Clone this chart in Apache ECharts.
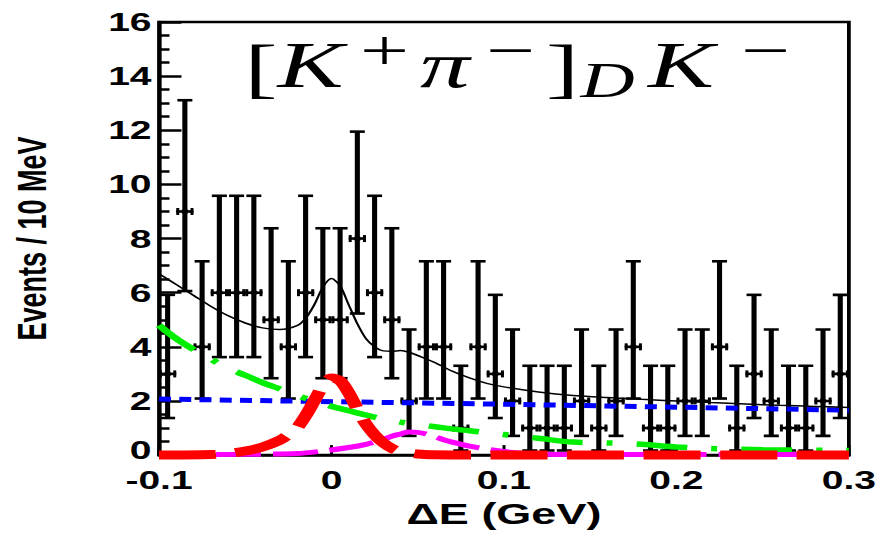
<!DOCTYPE html>
<html><head><meta charset="utf-8">
<script src="https://cdn.jsdelivr.net/npm/echarts@6/dist/echarts.min.js"></script>
<style>
html,body{margin:0;padding:0;background:#fff;overflow:hidden;width:881px;height:533px}
#chart{width:587.33px;height:533px;transform:scaleX(1.5);transform-origin:0 0;}
</style>
</head><body><div id="chart"></div>
<script>
// ---- data ----
const binCenters = [-0.095,-0.085,-0.075,-0.065,-0.055,-0.045,-0.035,-0.025,-0.015,-0.005,
  0.005,0.015,0.025,0.035,0.045,0.055,0.065,0.075,0.085,0.095,
  0.105,0.115,0.125,0.135,0.145,0.155,0.165,0.175,0.185,0.195,
  0.205,0.215,0.225,0.235,0.245,0.255,0.265,0.275,0.285,0.295];
const counts = [3,9,4,6,6,6,5,4,6,5, 5,8,6,5,2,4,4,1,4,3, 2,1,1,1,2,1,2,4,1,1, 2,2,4,1,3,2,1,1,2,3];
const errLow = [1.37,6.06,2.09,3.62,3.62,3.62,2.84,2.09,3.62,2.84,
  2.84,5.23,3.62,2.84,0.71,2.09,2.09,0.17,2.09,1.37,
  0.71,0.17,0.17,0.17,0.71,0.17,0.71,2.09,0.17,0.17,
  0.71,0.71,2.09,0.17,1.37,0.71,0.17,0.17,0.71,1.37];
const errHigh = [5.92,13.11,7.16,9.58,9.58,9.58,8.38,7.16,9.58,8.38,
  8.38,11.95,9.58,8.38,4.64,7.16,7.16,3.30,7.16,5.92,
  4.64,3.30,3.30,3.30,4.64,3.30,4.64,7.16,3.30,3.30,
  4.64,4.64,7.16,3.30,5.92,4.64,3.30,3.30,4.64,5.92];

const totalX = [-0.1,-0.09,-0.08,-0.07,-0.06,-0.05,-0.04,-0.03,-0.02,-0.015,-0.01,-0.005,0,0.005,0.01,0.015,0.02,0.025,0.03,0.035,0.04,0.045,0.05,0.06,0.07,0.08,0.09,0.1,0.12,0.14,0.16,0.18,0.2,0.22,0.24,0.26,0.28,0.3];
const totalY = [6.7,6.3,5.9,5.5,5.15,4.88,4.7,4.64,4.78,5.05,5.55,6.2,6.52,6.25,5.55,4.85,4.3,4.0,3.85,3.84,3.86,3.8,3.68,3.42,3.1,2.85,2.65,2.52,2.33,2.2,2.13,2.06,2.0,1.94,1.89,1.84,1.8,1.76];

const combX = [-0.1,0.1,0.3];
const combY = [2.07,1.88,1.66];

const bbX = [-0.1,-0.09,-0.08,-0.07,-0.06,-0.05,-0.04,-0.03,-0.02,-0.01,0,0.01,0.02,0.03,0.04,0.05,0.06,0.07,0.08,0.09,0.1,0.12,0.14,0.16,0.18,0.2,0.22,0.25,0.3];
const bbY = [4.8,4.3,3.9,3.55,3.2,2.95,2.68,2.45,2.2,2.0,1.8,1.64,1.48,1.33,1.22,1.13,1.05,0.97,0.9,0.83,0.76,0.62,0.48,0.45,0.4,0.3,0.24,0.2,0.17];

const sigX = [-0.1,-0.07,-0.06,-0.05,-0.04,-0.03,-0.025,-0.02,-0.015,-0.01,-0.005,0,0.005,0.01,0.015,0.02,0.025,0.03,0.035,0.04,0.05,0.06,0.08,0.3];
const sigY = [0,0.02,0.06,0.15,0.3,0.55,0.75,1.0,1.45,2.0,2.55,2.85,2.75,2.3,1.7,1.15,0.75,0.45,0.25,0.13,0.04,0.01,0,0];

const pkX = [-0.1,-0.05,-0.02,-0.005,0.01,0.02,0.03,0.035,0.04,0.045,0.05,0.055,0.06,0.065,0.07,0.08,0.09,0.1,0.11,0.12,0.14,0.3];
const pkY = [0.02,0.03,0.06,0.15,0.28,0.4,0.58,0.7,0.78,0.85,0.84,0.78,0.68,0.57,0.48,0.33,0.22,0.13,0.07,0.04,0.02,0.02];

const xTickLabels = ['-0.1','0','0.1','0.2','0.3'];
const yTickLabels = ['0','2','4','6','8','10','12','14','16'];

const zip = (xs, ys) => xs.map((x, i) => [x, ys[i]]);
const pts = binCenters.map((c, i) => [c, counts[i], errLow[i], errHigh[i]]);

const chart = echarts.init(document.getElementById('chart'), null, {renderer: 'svg'});
const serif = '"Liberation Serif", "DejaVu Serif", serif';
const sans = '"Liberation Sans", Arial, sans-serif';
function t(text, x, y, size, italic) {
  return {type: 'text', x: x, y: y, z: 100,
    style: {text: text, fill: '#000', font: (italic ? 'italic ' : '') + size + 'px ' + serif,
      align: 'left', verticalAlign: 'middle'}};
}

chart.setOption({
  animation: false,
  backgroundColor: '#fff',
  grid: {left: 105.3, right: 19.3, top: 22, bottom: 73, show: true, borderColor: '#000', borderWidth: 2.5, backgroundColor: 'transparent'},
  xAxis: {
    type: 'value', min: -0.1, max: 0.3, interval: 0.1,
    name: 'ΔE (GeV)', nameLocation: 'middle', nameGap: 39,
    nameTextStyle: {fontFamily: sans, fontWeight: 'bold', fontSize: 30, color: '#000'},
    axisLine: {show: true, onZero: false, lineStyle: {color: '#000', width: 2.5}},
    axisTick: {show: true, inside: true, length: 10, lineStyle: {color: '#000', width: 2}},
    axisLabel: {margin: 13, fontFamily: sans, fontWeight: 'bold', fontSize: 26, lineHeight: 24, color: '#000',
      formatter: (v, i) => xTickLabels[i]},
    splitLine: {show: false}
  },
  yAxis: {
    type: 'value', min: 0, max: 16, interval: 2,
    name: 'Events / 10 MeV', nameLocation: 'middle', nameGap: 71, nameRotate: 90,
    nameTextStyle: {fontFamily: sans, fontWeight: 'bold', fontSize: 27, color: '#000'},
    axisLine: {show: true, onZero: false, lineStyle: {color: '#000', width: 2.5}},
    axisTick: {show: true, inside: true, length: 15, lineStyle: {color: '#000', width: 2.5}},
    minorTick: {show: true, splitNumber: 4, length: 7, lineStyle: {color: '#000', width: 2.5}},
    axisLabel: {margin: 5, fontFamily: sans, fontWeight: 'bold', fontSize: 26, lineHeight: 20, color: '#000',
      formatter: (v, i) => i === 0 ? '{z|' + yTickLabels[0] + '}' : yTickLabels[i],
      rich: {z: {fontFamily: sans, fontWeight: 'bold', fontSize: 26, lineHeight: 20, color: '#000', padding: [0, 0, 10, 0]}}},
    splitLine: {show: false}
  },
  graphic: [
    t('[', 163, 68, 66, false),
    t('K', 185, 65, 66, true),
    t('+', 240, 50, 58, false),
    t('π', 280, 65, 66, true),
    t('−', 324, 50, 58, false),
    t(']', 364, 68, 66, false),
    t('D', 387, 80, 50, true),
    t('K', 432, 65, 66, true),
    t('−', 494, 50, 58, false)
  ],
  series: [
    {type: 'custom', z: 3, clip: false, data: pts, encode: {x: 0, y: 1},
      renderItem: function (params, api) {
        const x = api.value(0), y = api.value(1), lo = api.value(2), hi = api.value(3);
        const c = api.coord([x, y]);
        const l = api.coord([x - 0.005, y]);
        const r = api.coord([x + 0.005, y]);
        const pl = api.coord([x, lo]);
        const ph = api.coord([x, hi]);
        const line = (x1, y1, x2, y2, w) => ({type: 'line', shape: {x1, y1, x2, y2}, style: {stroke: '#000', lineWidth: w}});
        return {type: 'group', children: [
          line(c[0], pl[1], c[0], ph[1], 3.4),
          line(c[0] - 5, ph[1], c[0] + 5, ph[1], 2.6),
          line(c[0] - 5, pl[1], c[0] + 5, pl[1], 2.6),
          line(l[0], c[1], r[0], c[1], 2.6),
          line(l[0] + 1, c[1] - 3.5, l[0] + 1, c[1] + 3.5, 2),
          line(r[0] - 1, c[1] - 3.5, r[0] - 1, c[1] + 3.5, 2),
          {type: 'rect', shape: {x: c[0] - 2, y: c[1] - 2, width: 4, height: 4}, style: {fill: '#000'}}
        ]};
      }
    },
    {type: 'line', z: 4, data: zip(combX, combY), showSymbol: false, clip: false,
      lineStyle: {color: '#0000ff', width: 5, type: [8, 5.5], cap: 'butt'}},
    {type: 'line', z: 5, data: zip(bbX, bbY), showSymbol: false, smooth: 0.3, clip: false,
      lineStyle: {color: '#00ee00', width: 5.5, type: [34, 16, 4, 16], cap: 'butt'}},
    {type: 'line', z: 6, data: zip(pkX, pkY), showSymbol: false, smooth: 0.3, clip: false,
      lineStyle: {color: '#ff00ff', width: 5, type: [30, 8], cap: 'butt'}},
    {type: 'line', z: 7, data: zip(sigX, sigY), showSymbol: false, smooth: 0.3, clip: false,
      lineStyle: {color: '#ff0000', width: 9, type: [38, 13], cap: 'butt'}},
    {type: 'line', z: 8, data: zip(totalX, totalY), showSymbol: false, smooth: 0.3,
      lineStyle: {color: '#000', width: 1.5}}
  ]
});
</script>
</body></html>
